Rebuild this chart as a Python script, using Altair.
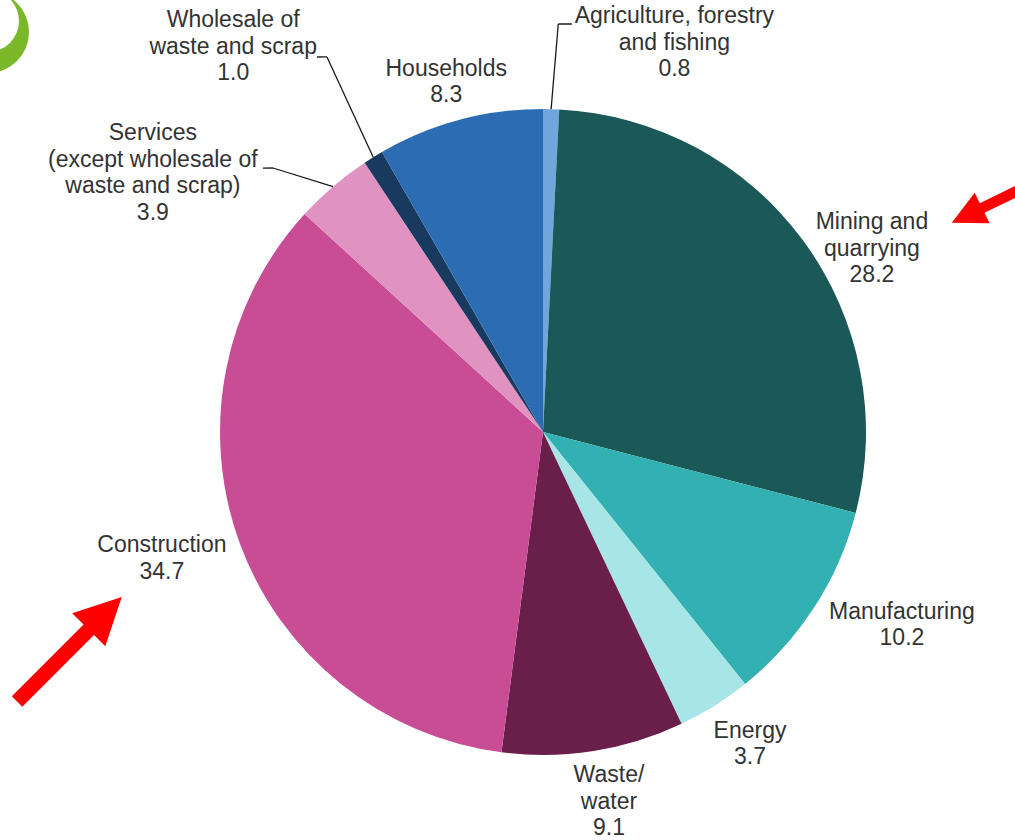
import math
import altair as alt
import pandas as pd

# ---------------- data ----------------
categories = [
    "Agriculture, forestry and fishing",
    "Mining and quarrying",
    "Manufacturing",
    "Energy",
    "Waste/water",
    "Construction",
    "Services (except wholesale of waste and scrap)",
    "Wholesale of waste and scrap",
    "Households",
]
values = [0.8, 28.2, 10.2, 3.7, 9.1, 34.7, 3.9, 1.0, 8.3]
label_text = [
    "Agriculture, forestry\nand fishing",
    "Mining and\nquarrying",
    "Manufacturing",
    "Energy",
    "Waste/\nwater",
    "Construction",
    "Services\n(except wholesale of\nwaste and scrap)",
    "Wholesale of\nwaste and scrap",
    "Households",
]
colors = ["#6fa7dc", "#1b5858", "#33b0b1", "#a7e5e6", "#6a1f4b",
          "#c84d94", "#e092c1", "#173a5e", "#2b6cb3"]

df = pd.DataFrame({
    "category": categories,
    "value": values,
    "label": [f"{t}\n{v:.1f}" for t, v in zip(label_text, values)],
    "order": list(range(len(categories))),
})

# ---------------- styles ----------------
CX, CY, R = 543, 432, 323
FONT = "Liberation Sans"
FONT_SIZE = 23
LINE_H = 26.5
TEXT_COLOR = "#333333"

# label placement: (radius, angular offset in degrees from slice middle)
label_place = {
    categories[0]: (411, 17.2),
    categories[1]: (376.5, 7.2),
    categories[2]: (407.6, -4.6),
    categories[3]: (374.4, -1.5),
    categories[4]: (375.8, -1.1),
    categories[5]: (401.6, 1.7),
    categories[6]: (468.2, -15.9),
    categories[7]: (494.3, -7.1),
    categories[8]: (363.2, -0.5),
}
# leader polylines: list of (radius, angular offset deg) points
leaders = {
    categories[0]: [(323, 0), (408.3, 0.7), (409, 2.6)],
    categories[7]: [(323, 0), (432.8, 1.77), (437.8, 0.64)],
    categories[6]: [(323, 0), (377.6, -5.1), (384.8, -6.15)],
}
ARROW = "M-1,-0.1L0.37,-0.1L0.37,-0.316L1,0L0.37,0.316L0.37,0.1L-1,0.1Z"
arrows = [
    # (category label anchor, xOffset, yOffset, angle, size)
    (categories[1], 128, -49.5, 154, 11500),
    (categories[5], -92.5, 90.5, 315, 21900),
]


def base():
    return (
        alt.Chart(df)
        .transform_window(cum="sum(value)", sort=[alt.SortField("order")], frame=[None, 0])
        .transform_joinaggregate(total="sum(value)")
        .transform_calculate(
            a0="2*PI*(datum.cum - datum.value)/datum.total",
            a1="2*PI*datum.cum/datum.total",
        )
        .transform_calculate(mid="(datum.a0 + datum.a1)/2")
    )


def polar_expr(r, off_deg):
    off = math.radians(off_deg)
    return (f"{CX} + {r}*sin(datum.mid + ({off}))",
            f"{CY} - {r}*cos(datum.mid + ({off}))")


XP = lambda f: alt.X(f, scale=None, axis=None)
YP = lambda f: alt.Y(f, scale=None, axis=None)

layers = []

# decorative logo fragment (top-left)
logo_df = pd.DataFrame({"k": [0]})
layers.append(
    alt.Chart(logo_df).mark_arc(color="#7ab829", outerRadius=41).encode(
        x=alt.value(-12), y=alt.value(32), theta=alt.value(0), theta2=alt.value(6.2832))
)
layers.append(
    alt.Chart(logo_df).mark_arc(color="#ffffff", outerRadius=31).encode(
        x=alt.value(-12), y=alt.value(21), theta=alt.value(0), theta2=alt.value(6.2832))
)

# pie
layers.append(
    base().mark_arc(outerRadius=R, strokeWidth=0).encode(
        theta=alt.Theta("a0:Q", scale=None),
        theta2="a1:Q",
        color=alt.Color("category:N", scale=alt.Scale(domain=categories, range=colors), legend=None),
        x=alt.value(CX),
        y=alt.value(CY),
    )
)

# leader lines
for cat, pts in leaders.items():
    for (r1, o1), (r2, o2) in zip(pts[:-1], pts[1:]):
        x1, y1 = polar_expr(r1, o1)
        x2, y2 = polar_expr(r2, o2)
        layers.append(
            base().transform_filter(alt.datum.category == cat)
            .transform_calculate(x1=x1, y1=y1, x2=x2, y2=y2)
            .mark_rule(color="#1a1a1a", strokeWidth=1.3)
            .encode(x=XP("x1:Q"), y=YP("y1:Q"), x2="x2:Q", y2="y2:Q")
        )

# labels (block centred on the placement point)
for cat, (r, off) in label_place.items():
    px, py = polar_expr(r, off)
    n_lines = df.loc[df.category == cat, "label"].iloc[0].count("\n") + 1
    layers.append(
        base().transform_filter(alt.datum.category == cat)
        .transform_calculate(px=px, py=py)
        .mark_text(font=FONT, fontSize=FONT_SIZE, lineHeight=LINE_H, lineBreak="\n",
                   align="center", baseline="middle", color=TEXT_COLOR,
                   dy=-(n_lines - 1) * LINE_H / 2)
        .encode(x=XP("px:Q"), y=YP("py:Q"), text="label:N")
    )

# red highlight arrows anchored to labels
for cat, xo, yo, ang, size in arrows:
    r, off = label_place[cat]
    px, py = polar_expr(r, off)
    layers.append(
        base().transform_filter(alt.datum.category == cat)
        .transform_calculate(px=px, py=py)
        .mark_point(shape=ARROW, filled=True, color="#ff0000", opacity=1, strokeWidth=0,
                    size=size, angle=ang, xOffset=xo, yOffset=yo)
        .encode(x=XP("px:Q"), y=YP("py:Q"))
    )

chart = (
    alt.layer(*layers)
    .properties(width=1015, height=840, autosize=alt.AutoSizeParams(type="none"), padding=0,
                background="#ffffff")
    .configure_view(strokeWidth=0)
)

chart.save("out.html", embed_options={"renderer": "svg", "actions": False})
